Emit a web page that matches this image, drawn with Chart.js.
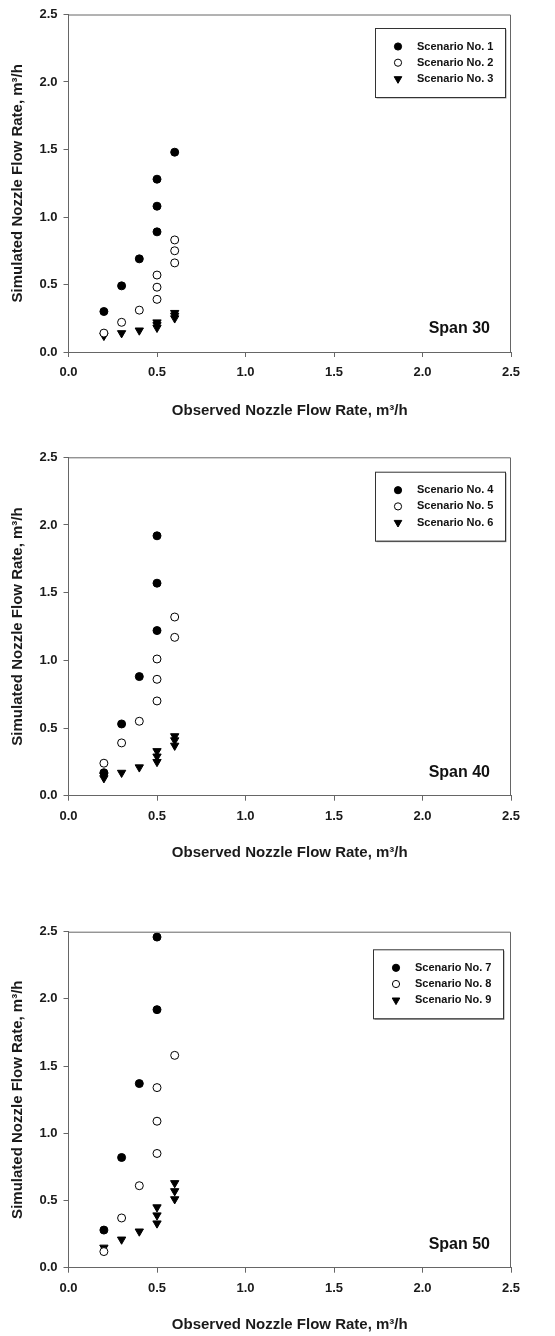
<!DOCTYPE html>
<html>
<head>
<meta charset="utf-8">
<script src="https://cdn.jsdelivr.net/npm/chart.js@4.4.0/dist/chart.umd.min.js"></script>
<style>
    html, body { margin: 0; padding: 0; background: #fff; }
    .panel { position: absolute; left: 0; width: 555px; }
</style>
</head>
<body>
<div class="panel" style="top:0;height:440px"><canvas id="chart_30" width="555" height="440"></canvas></div>
<div class="panel" style="top:440px;height:440px"><canvas id="chart_40" width="555" height="440"></canvas></div>
<div class="panel" style="top:880px;height:456px"><canvas id="chart_50" width="555" height="456"></canvas></div>
<script>
/***** data *****/
// Span 30
var s1X = [0.2, 0.3, 0.4, 0.5, 0.5, 0.5, 0.6];
var s1Y = [0.30, 0.49, 0.69, 0.89, 1.08, 1.28, 1.48];
var s2X = [0.2, 0.3, 0.4, 0.5, 0.5, 0.5, 0.6, 0.6, 0.6];
var s2Y = [0.14, 0.22, 0.31, 0.39, 0.48, 0.57, 0.66, 0.75, 0.83];
var s3X = [0.2, 0.3, 0.4, 0.5, 0.5, 0.5, 0.6, 0.6, 0.6];
var s3Y = [0.12, 0.14, 0.16, 0.18, 0.20, 0.22, 0.25, 0.27, 0.29];
// Span 40
var s4X = [0.2, 0.3, 0.4, 0.5, 0.5, 0.5];
var s4Y = [0.17, 0.53, 0.88, 1.22, 1.57, 1.92];
var s5X = [0.2, 0.3, 0.4, 0.5, 0.5, 0.5, 0.6, 0.6];
var s5Y = [0.24, 0.39, 0.55, 0.70, 0.86, 1.01, 1.17, 1.32];
var s6X = [0.2, 0.2, 0.3, 0.4, 0.5, 0.5, 0.5, 0.6, 0.6, 0.6];
var s6Y = [0.13, 0.15, 0.17, 0.21, 0.25, 0.29, 0.33, 0.37, 0.41, 0.44];
// Span 50
var s7X = [0.2, 0.3, 0.4, 0.5, 0.5];
var s7Y = [0.28, 0.82, 1.37, 1.92, 2.46];
var s8X = [0.2, 0.3, 0.4, 0.5, 0.5, 0.5, 0.6];
var s8Y = [0.12, 0.37, 0.61, 0.85, 1.09, 1.34, 1.58];
var s9X = [0.2, 0.3, 0.4, 0.5, 0.5, 0.5, 0.6, 0.6, 0.6];
var s9Y = [0.15, 0.21, 0.27, 0.33, 0.39, 0.45, 0.51, 0.57, 0.63];

var axisTicks = [0.0, 0.5, 1.0, 1.5, 2.0, 2.5];
var xTitle = 'Observed Nozzle Flow Rate, m\u00B3/h';
var yTitle = 'Simulated Nozzle Flow Rate, m\u00B3/h';

var FONT = "'Liberation Sans', Arial, sans-serif";

function pts(xs, ys) {
    return xs.map(function (x, i) { return { x: x, y: ys[i] }; });
}

// marker styles: filled circle, open circle, down triangle
var markerStyles = [
    { pointStyle: 'circle', pointRadius: 4, pointRotation: 0, backgroundColor: '#000', borderColor: '#000' },
    { pointStyle: 'circle', pointRadius: 4, pointRotation: 0, backgroundColor: '#fff', borderColor: '#000' },
    { pointStyle: 'triangle', pointRadius: 4.8, pointRotation: 180, backgroundColor: '#000', borderColor: '#000' }
];

/***** frame, legend box and span label *****/
var panelDecor = {
    id: 'panelDecor',
    afterDraw: function (chart, args, opts) {
        var ctx = chart.ctx, a = chart.chartArea;
        ctx.save();
        // top and right frame
        ctx.strokeStyle = '#666';
        ctx.lineWidth = 1;
        ctx.beginPath();
        ctx.moveTo(a.left, a.top + 0.5);
        ctx.lineTo(a.right - 0.5, a.top + 0.5);
        ctx.lineTo(a.right - 0.5, a.bottom);
        ctx.stroke();

        // legend box
        var bw = 130, bh = 69;
        var bx = a.right - opts.legendRight - bw;
        var by = a.top + opts.legendTop;
        ctx.fillStyle = '#999';
        ctx.fillRect(bx + 1.5, by + 1.5, bw, bh);
        ctx.fillStyle = '#fff';
        ctx.fillRect(bx, by, bw, bh);
        ctx.strokeStyle = '#333';
        ctx.lineWidth = 1;
        ctx.strokeRect(bx + 0.5, by + 0.5, bw, bh);

        ctx.font = 'bold 11px ' + FONT;
        ctx.textBaseline = 'middle';
        ctx.textAlign = 'left';
        chart.data.datasets.forEach(function (ds, i) {
            var yy = by + 18.5 + 16.2 * i;
            ctx.fillStyle = ds.backgroundColor;
            ctx.strokeStyle = ds.borderColor;
            ctx.lineWidth = 1;
            Chart.helpers.drawPoint(ctx, {
                pointStyle: ds.pointStyle,
                radius: ds.pointStyle === 'triangle' ? 4.4 : 3.6,
                rotation: ds.pointRotation,
                borderWidth: 1
            }, bx + 23, yy);
            ctx.fillStyle = '#111';
            ctx.fillText(ds.label, bx + 42, yy);
        });

        // span label
        ctx.font = 'bold 16px ' + FONT;
        ctx.textAlign = 'right';
        ctx.textBaseline = 'middle';
        ctx.fillStyle = '#111';
        ctx.fillText(opts.span, a.right - 21, a.bottom - 23);
        ctx.restore();
    }
};

function makePanel(id, labels, series, cfg) {
    var ctx = document.getElementById(id).getContext('2d');
    var datasets = series.map(function (s, i) {
        var m = markerStyles[i];
        return {
            label: labels[i],
            data: pts(s[0], s[1]),
            pointStyle: m.pointStyle,
            pointRadius: m.pointRadius,
            pointHoverRadius: m.pointRadius,
            pointRotation: m.pointRotation,
            backgroundColor: m.backgroundColor,
            borderColor: m.borderColor,
            pointBorderWidth: 1,
            showLine: false
        };
    });

    var axisCommon = function (title, titlePad) {
        return {
            type: 'linear',
            min: 0,
            max: 2.5,
            afterBuildTicks: function (scale) {
                scale.ticks = axisTicks.map(function (v) { return { value: v }; });
            },
            grid: { drawOnChartArea: false, drawTicks: true, tickLength: 5, color: '#666', lineWidth: 1 },
            border: { display: true, color: '#666', width: 1 },
            ticks: {
                color: '#1a1a1a',
                font: { family: FONT, size: 13, weight: 'bold' },
                callback: function (v) { return Number(v).toFixed(1); }
            },
            title: {
                display: true,
                text: title,
                color: '#1a1a1a',
                font: { family: FONT, size: 15, weight: 'bold' },
                padding: titlePad
            }
        };
    };

    var xAxis = axisCommon(xTitle, { top: 0, bottom: cfg.xTitlePad });
    xAxis.ticks.padding = 8;
    xAxis.ticks.maxRotation = 0;
    xAxis.afterFit = function (scale) { scale.height = cfg.xAxisH; };

    var yAxis = axisCommon(yTitle, { top: 8.5, bottom: 0 });
    yAxis.ticks.padding = 6;
    yAxis.afterFit = function (scale) { scale.width = 68.5; };

    return new Chart(ctx, {
        type: 'scatter',
        data: { datasets: datasets },
        plugins: [panelDecor],
        options: {
            responsive: false,
            animation: false,
            devicePixelRatio: 1,
            layout: { padding: { left: 0, top: cfg.top, right: 44, bottom: 0 } },
            plugins: {
                legend: { display: false },
                tooltip: { enabled: false },
                panelDecor: { span: cfg.span, legendTop: cfg.legendTop, legendRight: cfg.legendRight }
            },
            scales: { x: xAxis, y: yAxis }
        }
    });
}

makePanel('chart_30', ['Scenario No. 1', 'Scenario No. 2', 'Scenario No. 3'],
    [[s1X, s1Y], [s2X, s2Y], [s3X, s3Y]],
    { span: 'Span 30', top: 14.5, xAxisH: 88, xTitlePad: 20, legendTop: 13.5, legendRight: 6 });
makePanel('chart_40', ['Scenario No. 4', 'Scenario No. 5', 'Scenario No. 6'],
    [[s4X, s4Y], [s5X, s5Y], [s6X, s6Y]],
    { span: 'Span 40', top: 17.3, xAxisH: 84.3, xTitlePad: 18, legendTop: 14.4, legendRight: 6 });
makePanel('chart_50', ['Scenario No. 7', 'Scenario No. 8', 'Scenario No. 9'],
    [[s7X, s7Y], [s8X, s8Y], [s9X, s9Y]],
    { span: 'Span 50', top: 51.7, xAxisH: 68.3, xTitlePad: 2, legendTop: 17.6, legendRight: 8 });
</script>
</body>
</html>
